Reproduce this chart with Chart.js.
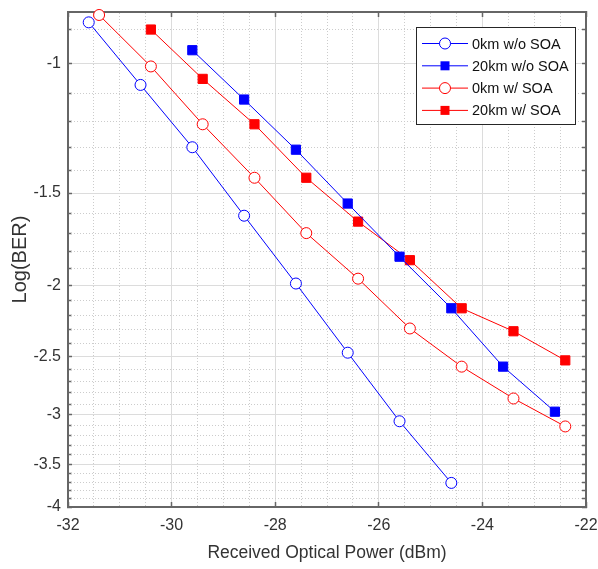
<!DOCTYPE html>
<html>
<head>
<meta charset="utf-8">
<script src="https://cdn.jsdelivr.net/npm/chart.js@4.4.1/dist/chart.umd.min.js"></script>
<style>
  html, body { margin: 0; padding: 0; background: #fff; }
</style>
</head>
<body>
<canvas id="berChart" width="598" height="569"></canvas>
<script>
// Measured curves: received power (dBm) and Log(BER)
const power0kmNoSoa = [-31.6, -30.6, -29.6, -28.6, -27.6, -26.6, -25.6, -24.6];
const logBer0kmNoSoa = [-0.88, -1.07, -1.30, -1.61, -1.99, -2.47, -3.06, -3.71];

const power20kmNoSoa = [-29.6, -28.6, -27.6, -26.6, -25.6, -24.6, -23.6, -22.6];
const logBer20kmNoSoa = [-0.96, -1.12, -1.31, -1.55, -1.83, -2.15, -2.58, -2.97];

const power0kmSoa = [-31.4, -30.4, -29.4, -28.4, -27.4, -26.4, -25.4, -24.4, -23.4, -22.4];
const logBer0kmSoa = [-0.86, -1.01, -1.21, -1.43, -1.70, -1.96, -2.29, -2.58, -2.85, -3.11];

const power20kmSoa = [-30.4, -29.4, -28.4, -27.4, -26.4, -25.4, -24.4, -23.4, -22.4];
const logBer20kmSoa = [-0.90, -1.05, -1.21, -1.43, -1.64, -1.85, -2.15, -2.31, -2.53];

const seriesNames = ['0km w/o SOA', '20km w/o SOA', '0km w/ SOA', '20km w/ SOA'];

// Axis ticks
const xTicks = [-32, -30, -28, -26, -24, -22];
const yTicks = [-1, -1.5, -2, -2.5, -3, -3.5, -4];

const fontFamily = "'Liberation Sans', Arial, sans-serif";
const axisColor = '#666666';
const textColor = '#333333';

// the y axis is log(-Log(BER)), drawn reversed so -1 sits on top
function toPoints(xs, ys) {
    return xs.map((x, i) => ({ x: x, y: -ys[i] }));
}

// minor grid positions (every 0.5 dBm, every 0.1 in Log(BER))
const xMinor = [];
for (let k = -64; k <= -44; k++) xMinor.push(k / 2);
const yMinor = [];
for (let k = 9; k <= 40; k++) yMinor.push(k / 10);

const isMajorY = v => yTicks.some(t => Math.abs(-t - v) < 1e-6);
const isMajorX = v => xTicks.some(t => Math.abs(t - v) < 1e-6);

// keep label overflow from pushing the plot area around
function noPadding(s) {
    s.paddingLeft = 0;
    s.paddingRight = 0;
    s.paddingTop = 0;
    s.paddingBottom = 0;
}

function makeDataset(name, xs, ys, color, style) {
    return {
        label: name,
        data: toPoints(xs, ys),
        borderColor: color,
        borderWidth: 1,
        backgroundColor: style === 'rect' ? color : '#ffffff',
        pointStyle: style,
        pointRadius: style === 'rect' ? 6.5 : 5.5,
        pointBorderWidth: 1,
        pointBorderColor: color,
        pointBackgroundColor: style === 'rect' ? color : '#ffffff',
        fill: false,
        tension: 0,
        clip: 10
    };
}

const legendPlugin = {
    id: 'boxLegend',
    afterDatasetsDraw(chart) {
        const ctx = chart.ctx;
        const left = 416, top = 27, width = 159, height = 97;
        ctx.save();
        ctx.fillStyle = '#ffffff';
        ctx.fillRect(left, top, width, height);
        ctx.strokeStyle = '#262626';
        ctx.lineWidth = 1;
        ctx.strokeRect(left + 0.5, top + 0.5, width, height);
        ctx.font = '14.5px ' + fontFamily;
        ctx.textBaseline = 'middle';
        chart.data.datasets.forEach((ds, i) => {
            const y = top + 16.5 + i * 22.3;
            ctx.strokeStyle = ds.borderColor;
            ctx.lineWidth = 1;
            ctx.beginPath();
            ctx.moveTo(422, y);
            ctx.lineTo(468, y);
            ctx.stroke();
            if (ds.pointStyle === 'rect') {
                ctx.fillStyle = ds.borderColor;
                ctx.fillRect(440.5, y - 4.5, 9, 9);
            } else {
                ctx.fillStyle = '#ffffff';
                ctx.beginPath();
                ctx.arc(445, y, 5.5, 0, Math.PI * 2);
                ctx.fill();
                ctx.stroke();
            }
            ctx.fillStyle = '#111111';
            ctx.fillText(ds.label, 472, y + 1);
        });
        ctx.restore();
    }
};

new Chart(document.getElementById('berChart'), {
    type: 'line',
    data: {
        datasets: [
            makeDataset(seriesNames[0], power0kmNoSoa, logBer0kmNoSoa, '#0000ff', 'circle'),
            makeDataset(seriesNames[1], power20kmNoSoa, logBer20kmNoSoa, '#0000ff', 'rect'),
            makeDataset(seriesNames[2], power0kmSoa, logBer0kmSoa, '#ff0000', 'circle'),
            makeDataset(seriesNames[3], power20kmSoa, logBer20kmSoa, '#ff0000', 'rect')
        ]
    },
    options: {
        responsive: false,
        animation: false,
        layout: { padding: { top: 12, right: 12, left: 0, bottom: 0 } },
        plugins: {
            legend: { display: false },
            tooltip: { enabled: false }
        },
        scales: {
            x: {
                type: 'linear',
                position: 'bottom',
                min: -32,
                max: -22,
                afterBuildTicks: s => { s.ticks = xTicks.map(v => ({ value: v })); },
                afterFit: s => { s.height = 62; noPadding(s); },
                ticks: {
                    autoSkip: false,
                    maxRotation: 0,
                    padding: 14,
                    color: textColor,
                    font: { family: fontFamily, size: 16 },
                    callback: v => String(v)
                },
                grid: { color: '#dcdcdc', lineWidth: 1, tickLength: -5, tickColor: axisColor, tickWidth: 1.5 },
                border: { color: axisColor, width: 2 },
                title: {
                    display: true,
                    text: 'Received Optical Power (dBm)',
                    color: textColor,
                    font: { family: fontFamily, size: 17.5 },
                    padding: { top: 0, bottom: 5 }
                }
            },
            xMinor: {
                type: 'linear',
                position: 'top',
                min: -32,
                max: -22,
                afterBuildTicks: s => { s.ticks = xMinor.map(v => ({ value: v })); },
                afterFit: s => { s.height = 0; noPadding(s); },
                ticks: { display: false, autoSkip: false },
                grid: {
                    color: c => isMajorX(c.tick.value) ? 'rgba(0,0,0,0)' : '#cccccc',
                    lineWidth: 1,
                    tickLength: -5,
                    tickWidth: 1.5,
                    tickColor: c => isMajorX(c.tick.value) ? axisColor : 'rgba(0,0,0,0)'
                },
                border: { color: axisColor, width: 2, dash: [1, 2] }
            },
            y: {
                type: 'logarithmic',
                position: 'left',
                reverse: true,
                min: 0.852,
                max: 4,
                afterBuildTicks: s => { s.ticks = yMinor.map(v => ({ value: v })); },
                afterFit: s => { s.width = 68; noPadding(s); },
                ticks: {
                    autoSkip: false,
                    padding: 11,
                    color: textColor,
                    font: { family: fontFamily, size: 16 },
                    callback: v => isMajorY(v) ? String(-Math.round(v * 10) / 10) : ''
                },
                grid: {
                    color: c => isMajorY(c.tick.value) ? '#dcdcdc' : 'rgba(0,0,0,0)',
                    lineWidth: 1,
                    tickLength: -4,
                    tickWidth: 1.5,
                    tickColor: axisColor
                },
                border: { color: axisColor, width: 2 },
                title: {
                    display: true,
                    text: 'Log(BER)',
                    color: textColor,
                    font: { family: fontFamily, size: 20 },
                    padding: { top: 8, bottom: 0 }
                }
            },
            yMinor: {
                type: 'logarithmic',
                position: 'right',
                reverse: true,
                min: 0.852,
                max: 4,
                afterBuildTicks: s => { s.ticks = yMinor.map(v => ({ value: v })); },
                afterFit: s => { s.width = 0; noPadding(s); },
                ticks: { display: false, autoSkip: false },
                grid: {
                    color: c => isMajorY(c.tick.value) ? 'rgba(0,0,0,0)' : '#cccccc',
                    lineWidth: 1,
                    tickLength: -4,
                    tickWidth: 1.5,
                    tickColor: axisColor
                },
                border: { color: axisColor, width: 2, dash: [1, 2] }
            }
        }
    },
    plugins: [legendPlugin]
});
</script>
</body>
</html>
